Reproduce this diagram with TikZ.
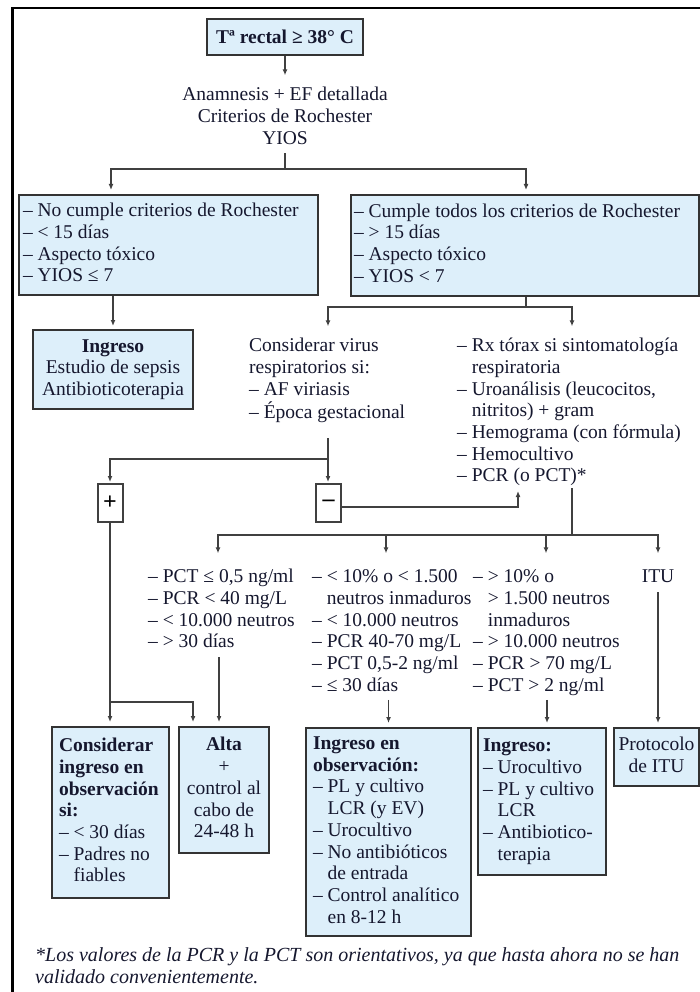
\documentclass[tikz,border=0pt]{standalone}
\usepackage{fontspec}
\setmainfont{Liberation Serif}
\usetikzlibrary{arrows.meta,calc}
\definecolor{tx}{HTML}{15172E}
\definecolor{bx}{HTML}{DDEFFA}
\definecolor{ln}{HTML}{404040}
\definecolor{bd}{HTML}{333333}
\newcommand\tbl[1]{\begin{tabular}{@{}l@{}}#1\end{tabular}}
\newcommand\tbc[1]{\begin{tabular}{@{}c@{}}#1\end{tabular}}
\newcommand\ind{\hphantom{–~}}
\newcommand\bfnt{\fontsize{19.5}{21.7}\selectfont}
\tikzset{
  txt/.style={inner sep=0pt, font=\bfnt, text=tx},
  box/.style={draw=bd, line width=2pt, fill=bx, inner sep=0pt, anchor=north west, font=\bfnt, text=tx},
  sgn/.style={draw=ln, line width=2pt, fill=white, inner sep=0pt, minimum width=25pt, minimum height=38pt, font=\fontsize{24}{26}\selectfont\bfseries, text=black},
  conn/.style={draw=ln, line width=1.6pt},
  arr/.style={conn, -{Latex[length=6pt,width=5pt]}},
}
\begin{document}
\begin{tikzpicture}[x=1pt,y=-1pt]
\useasboundingbox (0,0) rectangle (700,992);
\draw[line width=2.2pt, black] (700,8) -- (12.5,8) -- (12.5,992);

% boxes
\node[box, minimum width=156pt, minimum height=36pt] (top) at (206,18) {\textbf{Tª rectal ≥ 38° C}};
\node[txt, anchor=north] (anam) at (285,85.3) {\tbc{Anamnesis + EF detallada\\Criterios de Rochester\\YIOS}};
\node[box, minimum width=299pt, minimum height=100pt] (nocumple) at (18,194)
  {\makebox[291pt][l]{\tbl{– No cumple criterios de Rochester\\– < 15 días\\– Aspecto tóxico\\– YIOS ≤ 7}}};
\node[box, minimum width=348pt, minimum height=101pt] (cumple) at (350,194)
  {\makebox[342pt][l]{\tbl{– Cumple todos los criterios de Rochester\\– > 15 días\\– Aspecto tóxico\\– YIOS < 7}}};
\node[box, minimum width=160pt, minimum height=79pt] (ingreso) at (32,329)
  {\tbc{\textbf{Ingreso}\\Estudio de sepsis\\Antibioticoterapia}};
\node[txt, anchor=north west] (consid) at (249,336.3)
  {\tbl{Considerar virus\\respiratorios si:\\– AF viriasis\\– Época gestacional}};
\node[txt, anchor=north west] (rx) at (457,336.3)
  {\tbl{– Rx tórax si sintomatología\\\ind respiratoria\\– Uroanálisis (leucocitos,\\\ind nitritos) + gram\\– Hemograma (con fórmula)\\– Hemocultivo\\– PCR (o PCT)*}};
\node[sgn] (plus) at (110,503) {+};
\node[sgn] (minus) at (328.5,503) {–};
\node[txt, anchor=north west] (col1) at (148,567.3)
  {\tbl{– PCT ≤ 0,5 ng/ml\\– PCR < 40 mg/L\\– < 10.000 neutros\\– > 30 días}};
\node[txt, anchor=north west] (col2) at (312,567.3)
  {\tbl{– < 10\% o < 1.500\\\ind neutros inmaduros\\– < 10.000 neutros\\– PCR 40-70 mg/L\\– PCT 0,5-2 ng/ml\\– ≤ 30 días}};
\node[txt, anchor=north west] (col3) at (473,567.3)
  {\tbl{– > 10\% o\\\ind > 1.500 neutros\\\ind inmaduros\\– > 10.000 neutros\\– PCR > 70 mg/L\\– PCT > 2 ng/ml}};
\node[txt, anchor=north] (itu) at (658,567.3) {\tbc{ITU}};
\node[box, minimum width=117pt, minimum height=171pt] (obsq) at (51,726)
  {\makebox[103pt][l]{\tbl{\textbf{Considerar}\\\textbf{ingreso en}\\\textbf{observación}\\\textbf{si:}\\– < 30 días\\– Padres no\\\ind fiables}}};
\node[box, minimum width=90pt, minimum height=126pt] (alta) at (178,726)
  {\tbc{\textbf{Alta}\\+\\control al\\cabo de\\24-48 h}};
\node[box, minimum width=165pt, minimum height=208pt] (obs) at (305,727)
  {\makebox[151pt][l]{\tbl{\textbf{Ingreso en}\\\textbf{observación:}\\– PL y cultivo\\\ind LCR (y EV)\\– Urocultivo\\– No antibióticos\\\ind de entrada\\– Control analítico\\\ind en 8-12 h}}};
\node[box, minimum width=128pt, minimum height=147pt] (ing2) at (477,727)
  {\makebox[118pt][l]{\tbl{\textbf{Ingreso:}\\– Urocultivo\\– PL y cultivo\\\ind LCR\\– Antibiotico-\\\ind terapia}}};
\node[box, minimum width=85pt, minimum height=58pt] (proto) at (613,727)
  {\tbc{Protocolo\\de ITU}};
\node[txt, anchor=north west, font=\fontsize{20}{21.7}\selectfont\itshape] (foot) at (35,946.3)
  {\tbl{*Los valores de la PCR y la PCT son orientativos, ya que hasta ahora no se han\\validado convenientemente.}};

% coordinates
\coordinate (j1) at (285,169);
\coordinate (j2) at (526,307);
\coordinate (k1) at (328,438);
\coordinate (k2) at (328,459);
\coordinate (m1) at (518,491);
\coordinate (r1) at (572,488);
\coordinate (j4) at (572,535);
\coordinate (b1) at (110,702);
\coordinate (c1b) at (219,657);

% connectors
\draw[arr, shorten >=10pt] (top.south) -- (top.south |- anam.north);
\draw[conn, shorten <=2.5pt] (anam.south) -- (j1);
\draw[arr, shorten >=4pt] (j1) -| ([xshift=93pt]nocumple.north west);
\draw[arr, shorten >=4pt] (j1) -| ([xshift=176pt]cumple.north west);
\draw[arr, shorten >=3pt] (nocumple.south -| ingreso.north) -- (ingreso.north);
\draw[conn] (cumple.south -| j2) -- (j2);
\draw[arr, shorten >=10pt] (j2) -| ([xshift=79pt]consid.north west);
\draw[arr, shorten >=10pt] (j2) -| ([xshift=115pt]rx.north west);
\draw[conn] (k1) -- (k2);
\draw[arr, shorten >=1pt] (k2) -- (k2 |- minus.north);
\draw[arr, shorten >=1pt] (k2) -| (plus.north);
\draw[arr] ([yshift=-4pt]minus.east) -| (m1);
\draw[conn] (r1) -- (j4);
\draw[arr, shorten >=14pt] (j4) -| ([xshift=70pt]col1.north west);
\draw[arr, shorten >=14pt] (j4) -| ([xshift=74pt]col2.north west);
\draw[arr, shorten >=14pt] (j4) -| ([xshift=73pt]col3.north west);
\draw[arr, shorten >=14pt] (j4) -| (itu.north);
\draw[arr, shorten >=4pt] (plus.south) -- (plus.south |- obsq.north);
\draw[arr, shorten >=4pt] (b1) -| ([xshift=15pt]alta.north west);
\draw[arr, shorten >=4pt] (c1b) -- (c1b |- alta.north);
\draw[arr, shorten >=4pt, shorten <=2pt] (obs.north |- col2.south) -- (obs.north);
\draw[arr, shorten >=4pt, shorten <=2pt] ([xshift=5pt]ing2.north |- col3.south) -- ([xshift=5pt]ing2.north);
\draw[arr, shorten >=4pt, shorten <=3pt] (itu.south) -- (itu.south |- proto.north);
\end{tikzpicture}
\end{document}
